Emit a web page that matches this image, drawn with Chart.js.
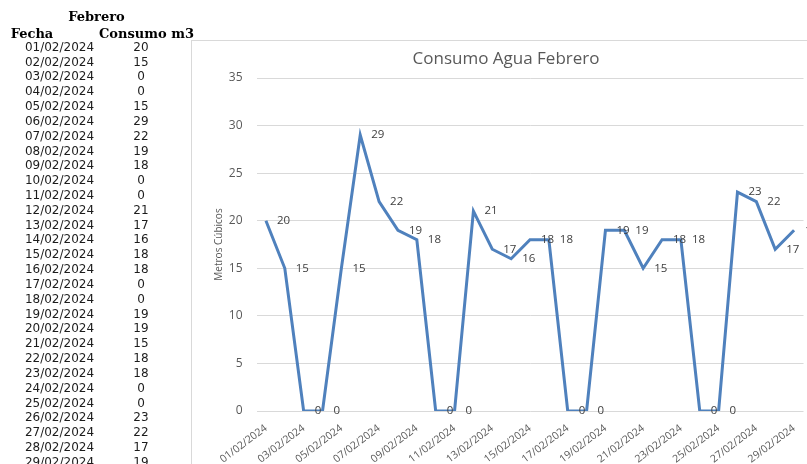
<!DOCTYPE html>
<html lang="es">
<head>
<meta charset="utf-8">
<title>Consumo Agua Febrero</title>
<script src="https://cdn.jsdelivr.net/npm/chart.js@4.4.1/dist/chart.umd.min.js"></script>
<style>
  html, body { margin: 0; padding: 0; background: #fff; width: 807px; height: 464px; overflow: hidden; }
  #marco { position: absolute; left: 191px; top: 40px; width: 640px; height: 430px;
           border-left: 1px solid #d9d9d9; border-top: 1px solid #d9d9d9; background: #fff; }
  #grafico { position: absolute; left: 0; top: 0; }
  #tabla { position: absolute; left: 0; top: 0; width: 807px; height: 464px; pointer-events: none; }
  .celda { position: absolute; white-space: nowrap; line-height: 1; transform: translate(-50%, -50%); }
  .enc { font: bold 13px "DejaVu Serif"; color: #000; }
  .dato { font: 12px "DejaVu Sans"; color: #1c1c1c; }
</style>
</head>
<body>
<div id="marco"><canvas id="grafico" width="628" height="423"></canvas></div>
<div id="tabla"></div>
<script>
// Consumo diario de agua, febrero 2024
const fechas = [
  '01/02/2024', '02/02/2024', '03/02/2024', '04/02/2024', '05/02/2024', '06/02/2024',
  '07/02/2024', '08/02/2024', '09/02/2024', '10/02/2024', '11/02/2024', '12/02/2024',
  '13/02/2024', '14/02/2024', '15/02/2024', '16/02/2024', '17/02/2024', '18/02/2024',
  '19/02/2024', '20/02/2024', '21/02/2024', '22/02/2024', '23/02/2024', '24/02/2024',
  '25/02/2024', '26/02/2024', '27/02/2024', '28/02/2024', '29/02/2024'
];
const consumo = [20, 15, 0, 0, 15, 29, 22, 19, 18, 0, 0, 21, 17, 16, 18, 18, 0, 0, 19, 19, 15, 18, 18, 0, 0, 23, 22, 17, 19];
const encabezados = { mes: 'Febrero', fecha: 'Fecha', consumo: 'Consumo m3' };
const tituloGrafico = 'Consumo Agua Febrero';
const tituloEjeY = 'Metros Cúbicos';

// Tabla de la hoja (columna de fechas y columna de consumo)
const tabla = document.getElementById('tabla');
function celda(texto, x, y, clase) {
  const d = document.createElement('div');
  d.className = 'celda ' + clase;
  d.style.left = x + 'px';
  d.style.top = y + 'px';
  d.textContent = texto;
  tabla.appendChild(d);
}
celda(encabezados.mes, 96.5, 16, 'enc');
celda(encabezados.fecha, 32, 32.5, 'enc');
celda(encabezados.consumo, 146.5, 32.5, 'enc');
fechas.forEach((f, i) => {
  const y = 46.7 + i * 14.83;
  celda(f, 59.5, y, 'dato');
  celda(String(consumo[i]), 141, y, 'dato');
});

// Valores escritos a la derecha de cada punto
const etiquetasValor = {
  id: 'etiquetasValor',
  afterDatasetsDraw(chart) {
    const ctx = chart.ctx;
    const meta = chart.getDatasetMeta(0);
    const datos = chart.data.datasets[0].data;
    ctx.save();
    ctx.font = '11.5px "Open Sans"';
    ctx.fillStyle = '#404040';
    ctx.textAlign = 'left';
    ctx.textBaseline = 'middle';
    meta.data.forEach((pt, i) => {
      ctx.fillText(String(datos[i]), pt.x + 11, pt.y);
    });
    ctx.restore();
  }
};

new Chart(document.getElementById('grafico'), {
  type: 'line',
  data: {
    labels: fechas,
    datasets: [{
      label: encabezados.consumo,
      data: consumo,
      borderColor: '#4f81bd',
      backgroundColor: '#4f81bd',
      borderWidth: 3,
      borderJoinStyle: 'miter',
      pointRadius: 0,
      pointHoverRadius: 0,
      tension: 0,
      fill: false
    }]
  },
  options: {
    responsive: false,
    animation: false,
    devicePixelRatio: 1,
    layout: { padding: { left: 16.5, right: 16.5, top: 0, bottom: 0 } },
    plugins: {
      legend: { display: false },
      tooltip: { enabled: false },
      title: {
        display: true,
        text: tituloGrafico,
        color: '#595959',
        font: { family: 'Open Sans', size: 17, weight: 'normal' },
        padding: { top: 7.5, bottom: 9.1 }
      }
    },
    scales: {
      x: {
        offset: true,
        grid: { display: false },
        border: { display: false },
        ticks: {
          autoSkip: false,
          minRotation: 37,
          maxRotation: 37,
          padding: 3,
          color: '#595959',
          font: { family: 'Open Sans', size: 10.5 },
          callback: (v, i) => (i % 2 === 0 ? fechas[i] : '')
        },
        afterFit: s => { s.height = 53; }
      },
      y: {
        min: 0,
        max: 35,
        ticks: {
          stepSize: 5,
          padding: 14,
          color: '#595959',
          font: { family: 'Open Sans', size: 12 }
        },
        grid: { color: '#d9d9d9', lineWidth: 1, drawTicks: false },
        border: { display: false },
        title: {
          display: true,
          text: tituloEjeY,
          color: '#595959',
          font: { family: 'Open Sans', size: 10 },
          padding: { top: 4.5, bottom: 0 }
        },
        afterFit: s => { s.width = 48; }
      }
    }
  },
  plugins: [etiquetasValor]
});
</script>
</body>
</html>
